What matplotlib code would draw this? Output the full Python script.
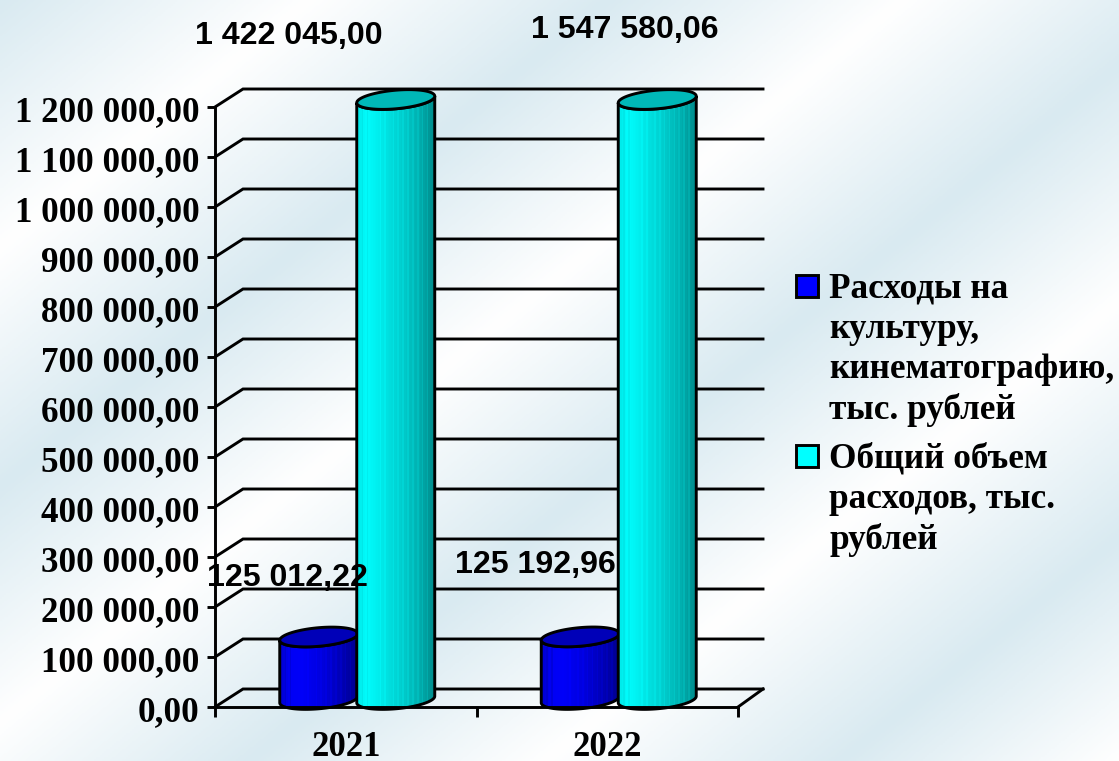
import numpy as np
import matplotlib
matplotlib.use("Agg")
import matplotlib.pyplot as plt
from matplotlib.colors import LinearSegmentedColormap
from matplotlib.path import Path
from matplotlib.patches import PathPatch, Rectangle
from matplotlib.transforms import ScaledTranslation

categories = ["2021", "2022"]
culture_values = [125012.22, 125192.96]
total_values = [1422045.00, 1547580.06]
y_ticks = [0, 100000, 200000, 300000, 400000, 500000, 600000, 700000,
           800000, 900000, 1000000, 1100000, 1200000]
legend_culture = "Расходы на\nкультуру,\nкинематографию,\nтыс. рублей"
legend_total = "Общий объем\nрасходов, тыс.\nрублей"

W, H = 1119, 761
AX_L, AX_R, AX_T, AX_B = 215, 738, 107, 707
DX, DY = 28, 18
YMAX = 1200000
INK = "#000000"
LW = 2.1

plt.rcParams["font.family"] = ["Liberation Serif", "DejaVu Serif"]
fig = plt.figure(figsize=(W / 100, H / 100), dpi=100)


def fmt(v):
    s = f"{v:,.2f}"
    return s.replace(",", " ").replace(".", ",")


# background: diagonal bands
bg = fig.add_axes([0, 0, 1, 1], zorder=0)
bg.axis("off")
yy, xx = np.mgrid[0:H:2, 0:W:2]
tmax = 0.8 * W + H
tt = (0.8 * xx + yy) / tmax
BLUE_BG, WHITE_BG = "#d9eaf1", "#ffffff"
bg_stops = [(0, BLUE_BG), (245 / tmax, WHITE_BG), (485 / tmax, BLUE_BG), (722 / tmax, WHITE_BG),
            (960 / tmax, BLUE_BG), (1197 / tmax, WHITE_BG), (1435 / tmax, BLUE_BG), (1, WHITE_BG)]
bg_cmap = LinearSegmentedColormap.from_list("bg", bg_stops, N=512)
bg.imshow(tt, cmap=bg_cmap, vmin=0, vmax=1, aspect="auto")

ax = fig.add_axes([AX_L / W, 1 - AX_B / H, (AX_R - AX_L) / W, (AX_B - AX_T) / H], zorder=1)
ax.patch.set_alpha(0)
ax.set_xlim(0, len(categories))
ax.set_ylim(0, YMAX)
for s in ["top", "right"]:
    ax.spines[s].set_visible(False)
for s in ["left", "bottom"]:
    ax.spines[s].set_linewidth(LW)
    ax.spines[s].set_color(INK)
    ax.spines[s].set_zorder(6)

ax.set_yticks(y_ticks)
ax.set_yticklabels([fmt(v) for v in y_ticks], fontsize=25.2, fontweight="bold")
ax.set_xticks(range(len(categories) + 1))
ax.set_xticklabels([""] * (len(categories) + 1))
ax.tick_params(axis="y", length=6, width=LW, pad=5)
ax.tick_params(axis="x", length=7, width=LW)
for lab in ax.get_yticklabels():
    lab.set_transform(lab.get_transform() + ScaledTranslation(0, -2 / 100, fig.dpi_scale_trans))

px_x = len(categories) / (AX_R - AX_L)
px_y = YMAX / (AX_B - AX_T)
dx, dy = DX * px_x, DY * px_y
right_extra = 25 * px_x

for v in y_ticks:
    ax.plot([0, dx, 2 + right_extra], [v, v + dy, v + dy], color=INK, lw=LW,
            clip_on=False, zorder=2, solid_joinstyle="miter")
ax.plot([2 + right_extra, 2], [dy, 0], color=INK, lw=LW, clip_on=False, zorder=2)

for i, c in enumerate(categories):
    ax.text(i + 0.5, -41 * px_y, c, ha="center", va="center", fontsize=25,
            fontweight="bold", color=INK, clip_on=False)

CENTER_SHIFT = 11.5
OFFSET = 38.5
HALF = 39
TILT = 0.085
MINOR = 9.3
LIFT = 7.5
blue_stops = [(0, "#0000d0"), (0.12, "#0000f4"), (0.28, "#0000f8"), (0.55, "#0000dc"),
              (0.8, "#0000b4"), (1, "#000090")]
cyan_stops = [(0, "#00e8e8"), (0.12, "#00fcfc"), (0.28, "#00ecec"), (0.55, "#00d0d0"),
              (0.8, "#00b0b0"), (1, "#008c8c")]
light_stripes = [3, 6, 14, 17, 22, 25, 28, 31, 34, 37, 40, 43]


def cylinder(cat, side, value, stops, top_color, z):
    h = min(value, YMAX)
    cx = cat + 0.5 + (CENTER_SHIFT + side * OFFSET) * px_x
    a = HALF * px_x
    t = np.linspace(0, np.pi, 60)
    lx = cx + a * np.cos(t)
    off = (TILT * HALF * np.cos(t) - MINOR * np.sin(t) + LIFT) * px_y
    verts = np.r_[np.c_[lx, off], np.c_[lx[::-1], (h + off)[::-1]]]
    path = Path(np.r_[verts, verts[:1]], closed=True)
    cmap = LinearSegmentedColormap.from_list("c", stops)
    gx = np.linspace(cx - a, cx + a, 49)
    gy = np.array([-5 * px_y, h + 22 * px_y])
    g = np.linspace(0, 1, 48)
    g[light_stripes] = np.clip(g[light_stripes] - 0.09, 0, 1)
    mesh = ax.pcolormesh(gx, gy, g[None, :], cmap=cmap, vmin=0, vmax=1, shading="flat", zorder=z)
    mesh.set_clip_path(PathPatch(path, transform=ax.transData))
    mesh.set_clip_box(None)
    ax.add_patch(PathPatch(path, facecolor="none", edgecolor=INK, lw=LW, clip_on=False, zorder=z + 0.2))
    tt_ = np.linspace(0, 2 * np.pi, 120)
    ex = cx + a * np.cos(tt_)
    ey = h + (TILT * HALF * np.cos(tt_) + MINOR * np.sin(tt_) + LIFT) * px_y
    ax.fill(ex, ey, facecolor=top_color, edgecolor=INK, lw=LW, clip_on=False, zorder=z + 0.3)


for i in range(len(categories)):
    cylinder(i, -1, culture_values[i], blue_stops, "#0000b8", 3)
    cylinder(i, 1, total_values[i], cyan_stops, "#00b8b8", 4)

label_kw = dict(family="Liberation Sans", fontweight="bold", fontsize=23.1, color=INK,
                ha="center", va="center", zorder=8)
label_pos_total = [(288.5, 36), (625, 30)]
label_pos_culture = [(287, 578), (535, 565)]
for v, (x, y) in zip(total_values, label_pos_total):
    fig.text(x / W, 1 - y / H, fmt(v), **label_kw)
for v, (x, y) in zip(culture_values, label_pos_culture):
    fig.text(x / W, 1 - y / H, fmt(v), **label_kw)

for (txt, color, ky, ty) in [(legend_culture, "#0000ff", 285.5, 273),
                             (legend_total, "#00ffff", 455.5, 443)]:
    fig.add_artist(Rectangle((796 / W, 1 - (ky + 11) / H), 22 / W, 22 / H, transform=fig.transFigure,
                             facecolor=color, edgecolor=INK, lw=LW, zorder=9))
    fig.text(829 / W, 1 - ty / H, txt, fontsize=25.4, fontweight="bold", color=INK,
             ha="left", va="top", linespacing=1.275, zorder=9)

fig.savefig("out.png", dpi=100)
